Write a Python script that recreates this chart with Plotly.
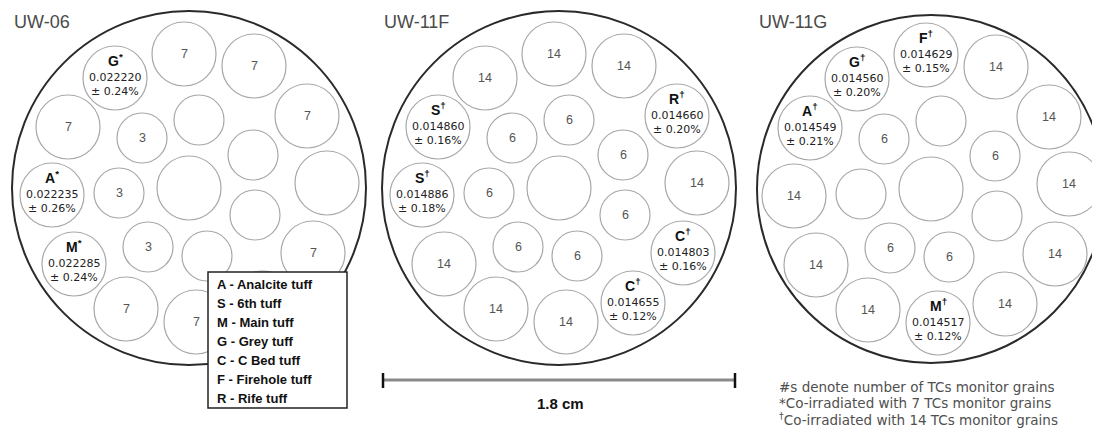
import plotly.graph_objects as go

# ---------------- data ----------------
disk_names = ["UW-06", "UW-11F", "UW-11G"]
disk_symbol = ["*", "†", "†"]

# pit template of the irradiation disk (offsets from disk centre, px units of the sketch)
pit_dx = [-5, -74, 65, 118, -121, -47, 10, 64, -137, -70, 0, 138, 66, -115, -41, 18, 124, -63, 7, 74]
pit_dy = [-134, -110, -122, -72, -61, -50, -68, -33, 7, 5, 0, -5, 27, 76, 59, 68, 65, 121, 134, 115]
pit_big = [1, 1, 1, 1, 1, 0, 0, 0, 1, 0, 1, 1, 0, 1, 0, 0, 1, 1, 1, 1]

# number of TCs monitor grains per pit ("" = none), tuff letter for sample pits
uw06_counts = ["7", "", "7", "7", "7", "3", "", "", "", "3", "", "", "", "", "3", "", "7", "7", "7", ""]
uw06_tuff = ["", "G", "", "", "", "", "", "", "A", "", "", "", "", "M", "", "", "", "", "", ""]
uw06_J = [0.022220, 0.022235, 0.022285]
uw06_err = [0.24, 0.26, 0.24]

uw11f_counts = ["14", "14", "14", "", "", "6", "6", "6", "", "6", "", "14", "6", "14", "6", "6", "", "14", "14", ""]
uw11f_tuff = ["", "", "", "R", "S", "", "", "", "S", "", "", "", "", "", "", "", "C", "", "", "C"]
uw11f_J = [0.014660, 0.014860, 0.014886, 0.014803, 0.014655]
uw11f_err = [0.20, 0.16, 0.18, 0.16, 0.12]

uw11g_counts = ["", "", "14", "14", "", "6", "", "6", "14", "", "", "14", "", "14", "6", "6", "14", "14", "", "14"]
uw11g_tuff = ["F", "G", "", "", "A", "", "", "", "", "", "", "", "", "", "", "", "", "", "M", ""]
uw11g_J = [0.014629, 0.014560, 0.014549, 0.014517]
uw11g_err = [0.15, 0.20, 0.21, 0.12]

legend_lines = ["A - Analcite tuff", "S - 6th tuff", "M - Main tuff", "G - Grey tuff",
                "C - C Bed tuff", "F - Firehole tuff", "R - Rife tuff"]
footnotes = ["#s denote number of TCs monitor grains",
             "*Co-irradiated with 7 TCs monitor grains",
             "<sup>†</sup>Co-irradiated with 14 TCs monitor grains"]
scale_label = "1.8 cm"

# ---------------- layout geometry ----------------
disk_cx = [189, 559, 931]
disk_cy = [188, 188, 189]
disk_r = [177, 177, 174]
title_x = [12, 382, 757]
R_BIG, R_SMALL = 32, 25

counts_all = [uw06_counts, uw11f_counts, uw11g_counts]
tuff_all = [uw06_tuff, uw11f_tuff, uw11g_tuff]
J_all = [uw06_J, uw11f_J, uw11g_J]
err_all = [uw06_err, uw11f_err, uw11g_err]

FONT = "Liberation Sans, Arial, sans-serif"
shapes = []
annos = []

for d in range(3):
    cx, cy, r = disk_cx[d], disk_cy[d], disk_r[d]
    shapes.append(dict(type="circle", xref="x", yref="y", x0=cx - r, x1=cx + r, y0=cy - r, y1=cy + r,
                       line=dict(color="#2a2a2a", width=2), fillcolor="white", layer="above"))
    annos.append(dict(x=title_x[d], y=22, text=disk_names[d], showarrow=False,
                      xanchor="left", yanchor="middle",
                      font=dict(family=FONT, size=18, color="#4a4a4a")))
    k = 0
    for i in range(len(pit_dx)):
        px, py = cx + pit_dx[i], cy + pit_dy[i]
        pr = R_BIG if pit_big[i] else R_SMALL
        shapes.append(dict(type="circle", xref="x", yref="y", x0=px - pr, x1=px + pr, y0=py - pr, y1=py + pr,
                           line=dict(color="#a8a8a8", width=1.2), fillcolor="white", layer="above"))
        if counts_all[d][i]:
            annos.append(dict(x=px, y=py, text=counts_all[d][i], showarrow=False,
                              font=dict(family=FONT, size=12.5, color="#555")))
        if tuff_all[d][i]:
            annos.append(dict(x=px, y=py - 18, text="<b>" + tuff_all[d][i] + "<sup>" + disk_symbol[d] + "</sup></b>",
                              showarrow=False, font=dict(family=FONT, size=14, color="#111")))
            annos.append(dict(x=px, y=py - 1, text=f"{J_all[d][k]:.6f}", showarrow=False,
                              font=dict(family="DejaVu Sans", size=11, color="#222")))
            annos.append(dict(x=px, y=py + 13, text=f"± {err_all[d][k]:.2f}%", showarrow=False,
                              font=dict(family="DejaVu Sans", size=11, color="#222")))
            k += 1

# legend box
shapes.append(dict(type="rect", xref="x", yref="y", x0=208, x1=347, y0=272, y1=408,
                   line=dict(color="#222", width=1.5), fillcolor="white", layer="above"))
for j, t in enumerate(legend_lines):
    annos.append(dict(x=215, y=284 + j * 19, text="<b>" + t + "</b>", showarrow=False,
                      xanchor="left", yanchor="middle",
                      font=dict(family=FONT, size=13, color="#111")))

# scale bar
shapes.append(dict(type="line", xref="x", yref="y", x0=383, x1=735, y0=380, y1=380,
                   line=dict(color="#8a8a8a", width=3), layer="above"))
for xe in (383, 735):
    shapes.append(dict(type="line", xref="x", yref="y", x0=xe, x1=xe, y0=373, y1=388,
                       line=dict(color="#111", width=2.5), layer="above"))
annos.append(dict(x=560, y=403, text="<b>" + scale_label + "</b>", showarrow=False,
                  font=dict(family=FONT, size=15, color="#111")))

# footnotes
for j, t in enumerate(footnotes):
    annos.append(dict(x=777, y=387 + j * 16, text=t, showarrow=False, xanchor="left", yanchor="middle",
                      font=dict(family="DejaVu Sans", size=13.5, color="#505050")))

fig = go.Figure()
fig.add_trace(go.Scatter(x=[8, 1100], y=[8, 436], mode="markers", marker=dict(opacity=0), hoverinfo="skip",
                         showlegend=False))
# page body has an 8 px margin: figure is 1092x428 and its axes map 1:1 onto window pixels
fig.update_layout(
    width=1092, height=428, margin=dict(l=0, r=0, t=0, b=0),
    paper_bgcolor="white", plot_bgcolor="white",
    xaxis=dict(range=[8, 1100], visible=False, fixedrange=True),
    yaxis=dict(range=[436, 8], visible=False, fixedrange=True),
    shapes=shapes, annotations=annos, showlegend=False,
)
fig.write_html("out.html")
